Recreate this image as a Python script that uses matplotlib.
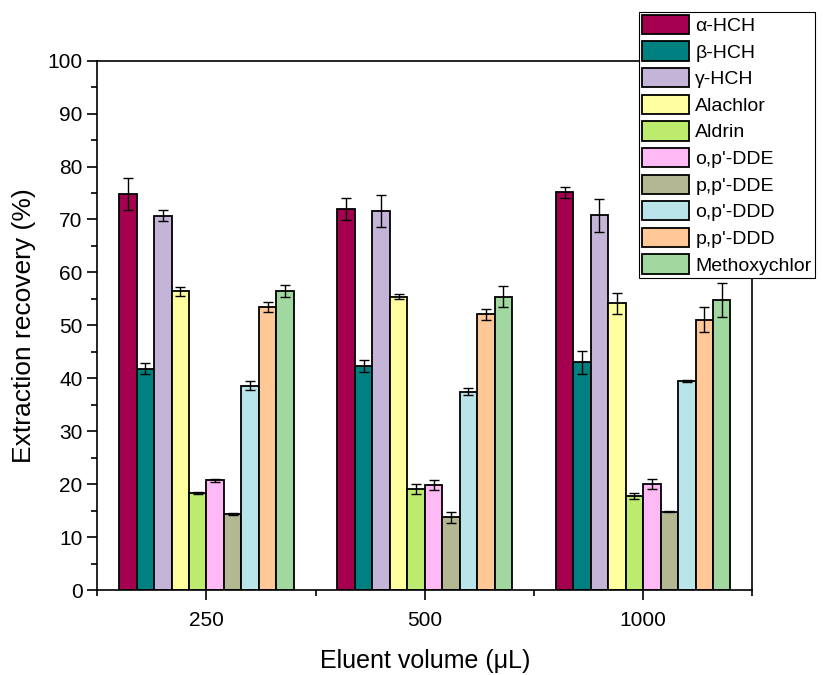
import numpy as np
import matplotlib
matplotlib.use("Agg")
import matplotlib.pyplot as plt
from matplotlib.ticker import FixedLocator, MultipleLocator

plt.rcParams['font.family'] = ['Liberation Sans', 'DejaVu Sans']

volumes = ["250", "500", "1000"]
compounds = ["α-HCH", "β-HCH", "γ-HCH", "Alachlor", "Aldrin", "o,p'-DDE",
             "p,p'-DDE", "o,p'-DDD", "p,p'-DDD", "Methoxychlor"]
colors = ["#A50050", "#008080", "#C3B4D8", "#FFFFA0", "#BDEB6E", "#FFB9F5",
          "#B3B893", "#B9E4EA", "#FFC896", "#A0D8A0"]

# recovery (%) per compound, for volumes 250, 500, 1000 µL
recovery = {
    "α-HCH":        [74.8, 72.0, 75.1],
    "β-HCH":        [41.8, 42.3, 43.0],
    "γ-HCH":        [70.7, 71.6, 70.8],
    "Alachlor":     [56.4, 55.4, 54.2],
    "Aldrin":       [18.3, 19.0, 17.8],
    "o,p'-DDE":     [20.7, 19.8, 20.0],
    "p,p'-DDE":     [14.3, 13.7, 14.8],
    "o,p'-DDD":     [38.6, 37.5, 39.5],
    "p,p'-DDD":     [53.5, 52.1, 51.1],
    "Methoxychlor": [56.5, 55.4, 54.8],
}
errors = {
    "α-HCH":        [3.0, 2.1, 1.0],
    "β-HCH":        [1.0, 1.2, 2.1],
    "γ-HCH":        [1.0, 3.1, 3.1],
    "Alachlor":     [0.9, 0.5, 2.0],
    "Aldrin":       [0.2, 0.95, 0.6],
    "o,p'-DDE":     [0.3, 1.0, 0.9],
    "p,p'-DDE":     [0.2, 1.05, 0.15],
    "o,p'-DDD":     [0.9, 0.7, 0.2],
    "p,p'-DDD":     [1.0, 1.05, 2.3],
    "Methoxychlor": [1.2, 2.0, 3.2],
}

fig = plt.figure(figsize=(8.26, 6.75), dpi=100)
ax = fig.add_axes([97.3/826, 1-590/675, (752.3-97.3)/826, (590-60.7)/675])

x = np.arange(len(volumes))
n = len(compounds)
w = 0.08
handles = []
for i, (c, col) in enumerate(zip(compounds, colors)):
    pos = x - w*n/2 + w*(i+0.5)
    b = ax.bar(pos, recovery[c], width=w, color=col, edgecolor='black', linewidth=1.3,
               label=c, zorder=2)
    ax.errorbar(pos, recovery[c], yerr=errors[c], fmt='none', ecolor='black',
                elinewidth=1.0, capsize=3.4, capthick=1.0, zorder=3)
    handles.append(b)

ax.set_xlim(-0.5, 2.5)
ax.set_ylim(0, 100)
ax.set_xticks(x)
ax.set_xticklabels(volumes)
ax.xaxis.set_minor_locator(FixedLocator([-0.5, 0.5, 1.5, 2.5]))
ax.yaxis.set_major_locator(MultipleLocator(10))
ax.yaxis.set_minor_locator(MultipleLocator(5))
ax.tick_params(axis='both', which='major', direction='out', length=7, width=1.2,
               labelsize=15, top=False, right=False)
ax.tick_params(axis='x', which='major', pad=8)
ax.tick_params(axis='both', which='minor', direction='out', length=4, width=1.2,
               top=False, right=False)
for s in ax.spines.values():
    s.set_linewidth(1.2)

ax.set_xlabel("Eluent volume (μL)", fontsize=18, labelpad=14)
ax.set_ylabel("Extraction recovery (%)", fontsize=19, labelpad=8)

leg = fig.legend(handles=handles, labels=compounds, loc='upper left',
                 bbox_to_anchor=(639/826, 1-11.7/675), fontsize=14,
                 frameon=True, fancybox=False, edgecolor='black', framealpha=1,
                 handlelength=2.4, handleheight=1.15, labelspacing=0.33,
                 handletextpad=0.35, borderpad=0.15, borderaxespad=0)
leg.get_frame().set_linewidth(0.8)

fig.savefig("out.png", dpi=100)
